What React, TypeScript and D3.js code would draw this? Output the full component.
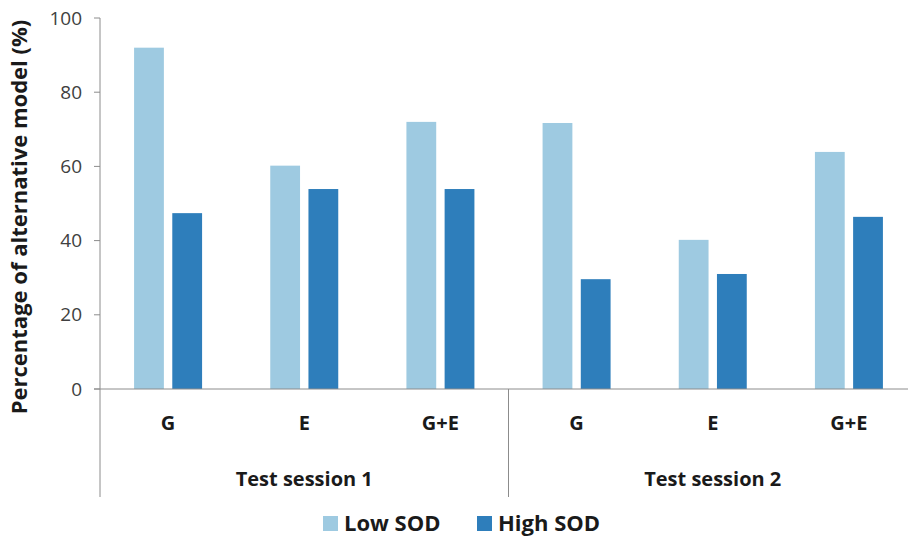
import React from "react";
import * as d3 from "d3";

const sessions = ["Test session 1", "Test session 2"];
const conditions = ["G", "E", "G+E"];
const seriesNames = ["Low SOD", "High SOD"];
const lowSOD = [92, 60.2, 72, 71.7, 40.2, 63.9];
const highSOD = [47.4, 53.9, 53.9, 29.6, 31, 46.4];
const yTicks = [0, 20, 40, 60, 80, 100];
const colors = ["#9ecae1", "#2e7ebb"];

const W = 908, H = 540;
const left = 100, right = 917, top = 18, bottom = 389;

export default function App() {
  const cats = sessions.flatMap((s, si) => conditions.map((c, ci) => ({ key: `${si}-${ci}`, label: c, si })));
  const x = d3.scaleBand<string>().domain(cats.map((c) => c.key)).range([left, right]).padding(0);
  const y = d3.scaleLinear().domain([0, 100]).range([bottom, top]);
  const sub = d3.scaleBand<number>().domain([0, 1]).range([-34, 34]).paddingInner(0.22);
  const series = [lowSOD, highSOD];
  const sessionX = d3.scaleBand<number>().domain([0, 1]).range([left, right]);
  const font = "'Open Sans', 'Liberation Sans', sans-serif";
  return (
    <svg width={W} height={H} style={{ position: "absolute", left: 0, top: 0, background: "#fff" }} fontFamily={font}>
      {/* bars */}
      {cats.map((c, i) =>
        series.map((s, k) => (
          <rect key={c.key + k} x={(x(c.key) as number) + x.bandwidth() / 2 + (sub(k) as number)} y={y(s[i])} width={sub.bandwidth()} height={bottom - y(s[i])} fill={colors[k]} />
        ))
      )}
      {/* y axis */}
      <line x1={left} x2={left} y1={top} y2={bottom} stroke="#8c8c8c" strokeWidth={1} />
      {yTicks.map((t) => (
        <g key={t}>
          <line x1={left - 6} x2={left} y1={y(t)} y2={y(t)} stroke="#8c8c8c" />
          <text x={82} y={y(t)} dy="0.35em" textAnchor="end" fontSize={19} fill="#404040">{t}</text>
        </g>
      ))}
      {/* x axis */}
      <line x1={left - 6} x2={W} y1={bottom} y2={bottom} stroke="#8c8c8c" />
      <line x1={left} x2={left} y1={bottom} y2={497} stroke="#8c8c8c" />
      <line x1={(sessionX(1) as number)} x2={(sessionX(1) as number)} y1={bottom} y2={497} stroke="#8c8c8c" />
      {cats.map((c) => (
        <text key={"l" + c.key} x={(x(c.key) as number) + x.bandwidth() / 2} y={423} dy="0.35em" textAnchor="middle" fontSize={20} fontWeight="bold" fill="#1a1a1a">{c.label}</text>
      ))}
      {sessions.map((s, i) => (
        <text key={s} x={(sessionX(i) as number) + sessionX.bandwidth() / 2} y={479} dy="0.35em" textAnchor="middle" fontSize={20} fontWeight="bold" fill="#1a1a1a">{s}</text>
      ))}
      {/* y title */}
      <text transform={`translate(19,${217}) rotate(-90)`} textAnchor="middle" dy="0.35em" fontSize={22} fontWeight="bold" fill="#1a1a1a">Percentage of alternative  model (%)</text>
      {/* legend */}
      {seriesNames.map((n, i) => {
        const lx = i === 0 ? 323 : 477;
        return (
          <g key={n}>
            <rect x={lx} y={516} width={15} height={15} fill={colors[i]} />
            <text x={lx + 21} y={523} dy="0.35em" fontSize={22} fontWeight="bold" fill="#1a1a1a">{n}</text>
          </g>
        );
      })}
    </svg>
  );
}
